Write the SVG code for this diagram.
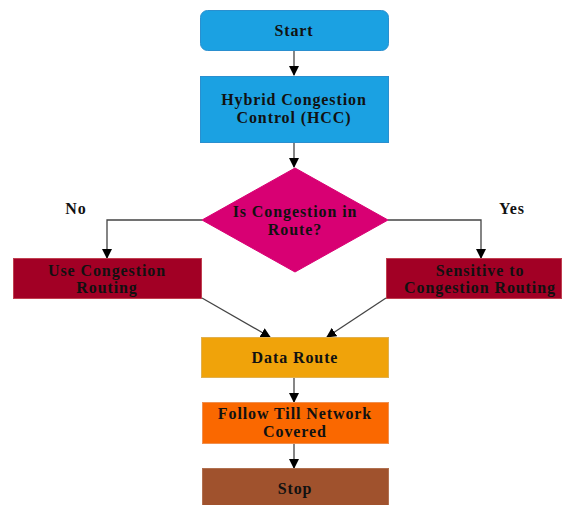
<svg xmlns="http://www.w3.org/2000/svg" width="563" height="505" viewBox="0 0 563 505">
<defs>
<marker id="arr" viewBox="0 0 10 10" refX="9" refY="5" markerWidth="10" markerHeight="10" markerUnits="userSpaceOnUse" orient="auto">
<path d="M0,0 L10,5 L0,10 Z" fill="#000"/>
</marker>
<style>
text{font-family:"Liberation Serif","Times New Roman",serif;font-weight:bold;font-size:16px;letter-spacing:0.9px;fill:#111;text-anchor:middle}
.c{fill:none;stroke:#444;stroke-width:1.3;marker-end:url(#arr)}
.blue{fill:#1ba1e2;stroke:#2a8fcf}
.pink{fill:#d80073;stroke:#d80073}
.red{fill:#a20025;stroke:#c04050}
.amber{fill:#f0a30a;stroke:#e0b050}
.orange{fill:#fa6800;stroke:#f09050}
.brown{fill:#a0522d;stroke:#b07050}
</style>
</defs>
<rect width="563" height="505" fill="#fff"/>
<g id="connectors">
<path class="c" d="M294,50 V75"/>
<path class="c" d="M294,142 V167"/>
<path class="c" d="M202,220 H107 V258"/>
<path class="c" d="M388,220 H481 V258"/>
<path class="c" d="M202,298 L270,337"/>
<path class="c" d="M386,298 L327,337"/>
<path class="c" d="M294,377 V402"/>
<path class="c" d="M294,443 V468"/>
</g>
<g id="start"><rect class="blue" x="200.5" y="10.5" width="188" height="40" rx="7"/><text x="294" y="36">Start</text></g>
<g id="hcc"><rect class="blue" x="200.5" y="76.5" width="188" height="66"/><text x="294" y="105">Hybrid Congestion</text><text x="294" y="123">Control (HCC)</text></g>
<g id="decision"><polygon class="pink" points="295,168 388,220 295,272 202,220"/><text x="295" y="217">Is Congestion in</text><text x="295" y="235">Route?</text></g>
<g id="labelNo"><text x="76" y="214">No</text></g>
<g id="labelYes"><text x="512" y="214">Yes</text></g>
<g id="useRouting"><rect class="red" x="13.5" y="258.5" width="188" height="40"/><text x="107" y="276">Use Congestion</text><text x="107" y="293">Routing</text></g>
<g id="sensitive"><rect class="red" x="386.5" y="258.5" width="175" height="40"/><text x="480" y="276">Sensitive to</text><text x="480" y="293">Congestion Routing</text></g>
<g id="dataRoute"><rect class="amber" x="201.5" y="337.5" width="187" height="40"/><text x="295" y="363">Data Route</text></g>
<g id="follow"><rect class="orange" x="202.5" y="402.5" width="186" height="41"/><text x="295" y="419">Follow Till Network</text><text x="295" y="437">Covered</text></g>
<g id="stop"><rect class="brown" x="202.5" y="468.5" width="186" height="40"/><text x="295" y="494">Stop</text></g>
</svg>
